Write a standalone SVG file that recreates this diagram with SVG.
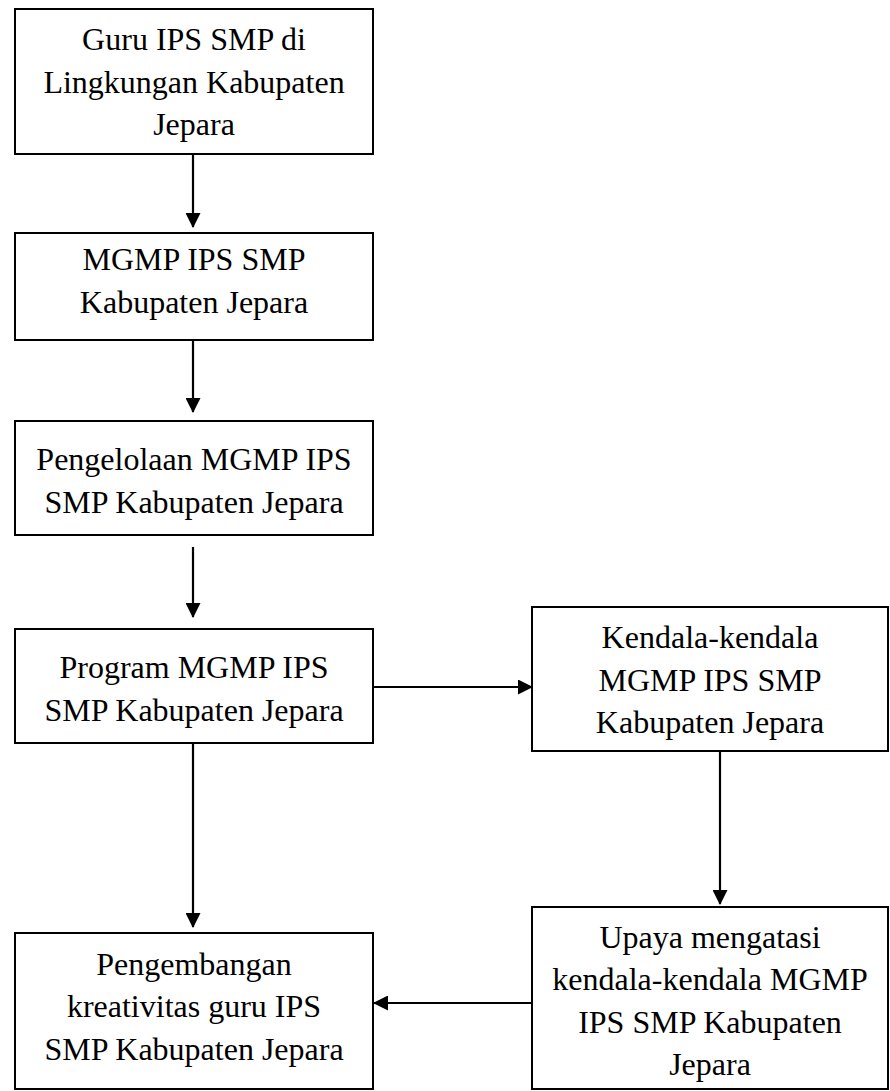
<svg xmlns="http://www.w3.org/2000/svg" width="890" height="1091" viewBox="0 0 890 1091">
<style>
.box{fill:#fff;stroke:#000;stroke-width:2}
.t{font-family:"Liberation Serif","Times New Roman",serif;font-size:32px;fill:#000;text-anchor:middle}
.c{stroke:#000;stroke-width:2.2;fill:none;marker-end:url(#ah)}
</style>
<defs>
<marker id="ah" viewBox="0 0 15 15" refX="14" refY="7.5" markerWidth="15" markerHeight="15" markerUnits="userSpaceOnUse" orient="auto">
<path d="M0,0 L15,7.5 L0,15 Z" fill="#000"/>
</marker>
</defs>
<rect width="890" height="1091" fill="#fff"/>
<g id="connectors">
<line class="c" x1="193" y1="155" x2="193" y2="227"/>
<line class="c" x1="193" y1="341" x2="193" y2="412"/>
<line class="c" x1="193" y1="547" x2="193" y2="617"/>
<line class="c" x1="374" y1="687" x2="532" y2="687"/>
<line class="c" x1="193" y1="744" x2="193" y2="927"/>
<line class="c" x1="720" y1="752" x2="720" y2="904"/>
<line class="c" x1="532" y1="1003" x2="374" y2="1003"/>
</g>
<g id="n1">
<rect class="box" x="15" y="9" width="358" height="145"/>
<text class="t" x="194" y="50">Guru IPS SMP di</text>
<text class="t" x="194" y="92.5">Lingkungan Kabupaten</text>
<text class="t" x="194" y="135">Jepara</text>
</g>
<g id="n2">
<rect class="box" x="15" y="233" width="358" height="107"/>
<text class="t" x="194" y="270">MGMP IPS SMP</text>
<text class="t" x="194" y="312.5">Kabupaten Jepara</text>
</g>
<g id="n3">
<rect class="box" x="15" y="421" width="358" height="114"/>
<text class="t" x="194" y="470">Pengelolaan MGMP IPS</text>
<text class="t" x="194" y="512.5">SMP Kabupaten Jepara</text>
</g>
<g id="n4">
<rect class="box" x="15" y="629" width="358" height="114"/>
<text class="t" x="194" y="678">Program MGMP IPS</text>
<text class="t" x="194" y="720.5">SMP Kabupaten Jepara</text>
</g>
<g id="n5">
<rect class="box" x="532" y="607" width="356" height="144"/>
<text class="t" x="710" y="648">Kendala-kendala</text>
<text class="t" x="710" y="690.5">MGMP IPS SMP</text>
<text class="t" x="710" y="733">Kabupaten Jepara</text>
</g>
<g id="n6">
<rect class="box" x="15" y="933" width="358" height="156"/>
<text class="t" x="194" y="974.5">Pengembangan</text>
<text class="t" x="194" y="1017">kreativitas guru IPS</text>
<text class="t" x="194" y="1059.5">SMP Kabupaten Jepara</text>
</g>
<g id="n7">
<rect class="box" x="532" y="907" width="356" height="182"/>
<text class="t" x="710" y="948">Upaya mengatasi</text>
<text class="t" x="710" y="990">kendala-kendala MGMP</text>
<text class="t" x="710" y="1032.5">IPS SMP Kabupaten</text>
<text class="t" x="710" y="1074.5">Jepara</text>
</g>
</svg>
